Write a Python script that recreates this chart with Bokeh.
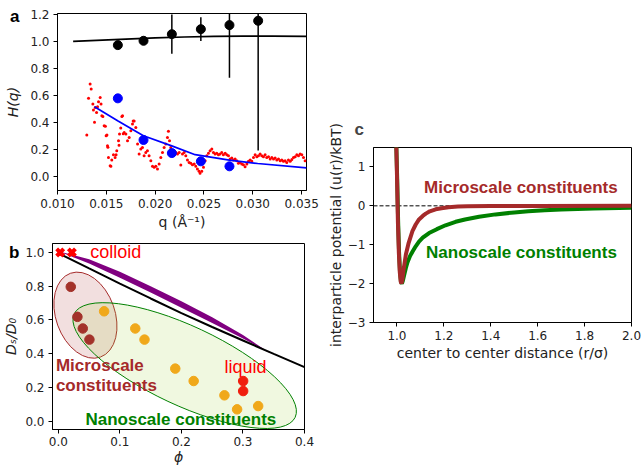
from bokeh.plotting import figure
from bokeh.layouts import row, column
from bokeh.models import (Range1d, FixedTicker, PrintfTickFormatter, Label, Spacer,
                          LinearAxis, CustomJSTickFormatter)
from bokeh.embed import file_html
from bokeh.resources import INLINE

# ---------------- Panel a data ----------------
q_pts = [0.01618, 0.01881, 0.02171, 0.02468, 0.02761, 0.03055]
h_black = [0.971, 1.003, 1.052, 1.089, 1.119, 1.151]
h_black_err = [0.0, 0.03, 0.145, 0.088, 0.39, 0.96]
q_blue = [0.01618, 0.01881, 0.02171, 0.02468, 0.02761]
h_blue = [0.577, 0.269, 0.172, 0.111, 0.074]
q_black_fit = [0.0116, 0.014, 0.017, 0.020, 0.023, 0.026, 0.029, 0.032, 0.0355]
h_black_fit = [0.998, 1.006, 1.015, 1.024, 1.031, 1.036, 1.038, 1.038, 1.036]
q_blue_fit = [0.01379, 0.0162, 0.0188, 0.0217, 0.0241, 0.0276, 0.0305, 0.0355]
h_blue_fit = [0.515, 0.41, 0.30, 0.225, 0.16, 0.12, 0.095, 0.062]
q_red = [0.01300, 0.01318, 0.01334, 0.01345, 0.01362, 0.01368, 0.01379, 0.01386, 0.01400, 0.01410,
         0.01420, 0.01437, 0.01446, 0.01454, 0.01465, 0.01478, 0.01490, 0.01498, 0.01506, 0.01512,
         0.01516, 0.01522, 0.01539, 0.01547, 0.01556, 0.01573, 0.01590, 0.01600, 0.01607, 0.01625,
         0.01630, 0.01635, 0.01648, 0.01659, 0.01666, 0.01673, 0.01683, 0.01700, 0.01717, 0.01734,
         0.01751, 0.01768, 0.01775, 0.01785, 0.01802, 0.01820, 0.01836, 0.01853, 0.01870, 0.01887,
         0.01904, 0.01921, 0.01938, 0.01956, 0.01973, 0.01990, 0.02007, 0.02024, 0.02041, 0.02058,
         0.02075, 0.02092, 0.02109, 0.02126, 0.02136, 0.02147, 0.02160, 0.02177, 0.02195, 0.02212,
         0.02229, 0.02246, 0.02263, 0.02280, 0.02297, 0.02314, 0.02331, 0.02348, 0.02365, 0.02382,
         0.02400, 0.02416, 0.02433, 0.02450, 0.02460, 0.02478, 0.02495, 0.02512, 0.02529, 0.02546,
         0.02563, 0.02580, 0.02597, 0.02614, 0.02631, 0.02648, 0.02665, 0.02682, 0.02699, 0.02717,
         0.02734, 0.02751, 0.02768, 0.02785, 0.02802, 0.02819, 0.02836, 0.02853, 0.02870, 0.02887,
         0.02904, 0.02921, 0.02939, 0.02956, 0.02973, 0.02990, 0.03007, 0.03024, 0.03041, 0.03058,
         0.03075, 0.03092, 0.03109, 0.03126, 0.03143, 0.03161, 0.03178, 0.03195, 0.03212, 0.03229,
         0.03246, 0.03263, 0.03280, 0.03297, 0.03314, 0.03331, 0.03348, 0.03365, 0.03383, 0.03400,
         0.03417, 0.03434, 0.03451, 0.03468, 0.03485, 0.03502, 0.03519, 0.03536]
h_red = [0.306, 0.577, 0.683, 0.646, 0.535, 0.49, 0.40, 0.51, 0.473, 0.515,
         0.552, 0.584, 0.535, 0.449, 0.443, 0.375, 0.37, 0.30, 0.306, 0.227,
         0.215, 0.14, 0.079, 0.074, 0.12, 0.16, 0.14, 0.16, 0.19, 0.264,
         0.23, 0.313, 0.357, 0.443, 0.449, 0.315, 0.325, 0.313, 0.264, 0.288,
         0.338, 0.387, 0.41, 0.41, 0.362, 0.239, 0.165, 0.202, 0.214, 0.153,
         0.177, 0.19, 0.153, 0.116, 0.074, 0.067, 0.074, 0.054, 0.091, 0.14,
         0.177, 0.214, 0.239, 0.288, 0.333, 0.264, 0.214, 0.177, 0.19, 0.177,
         0.165, 0.177, 0.084, 0.165, 0.177, 0.153, 0.12, 0.103, 0.096, 0.086,
         0.091, 0.074, 0.054, 0.037, 0.022, 0.037, 0.067, 0.116, 0.153, 0.17,
         0.19, 0.202, 0.177, 0.165, 0.17, 0.16, 0.165, 0.177, 0.16, 0.17,
         0.16, 0.153, 0.128, 0.136, 0.12, 0.128, 0.116, 0.096, 0.103, 0.091,
         0.086, 0.071, 0.091, 0.111, 0.12, 0.111, 0.14, 0.16, 0.145, 0.153,
         0.165, 0.153, 0.145, 0.16, 0.14, 0.145, 0.128, 0.14, 0.128, 0.136,
         0.12, 0.128, 0.116, 0.12, 0.111, 0.116, 0.103, 0.12, 0.111, 0.125,
         0.14, 0.145, 0.16, 0.153, 0.165, 0.16, 0.14, 0.116]
a_xticks = [0.010, 0.015, 0.020, 0.025, 0.030, 0.035]
a_yticks = [0.0, 0.2, 0.4, 0.6, 0.8, 1.0, 1.2]

# ---------------- Panel b data ----------------
phi_colloid = [0.003, 0.022]
ds_colloid = [1.0, 1.0]
phi_band = [0.008, 0.05, 0.1, 0.15, 0.2, 0.25, 0.3, 0.345]
band_upper = [1.0, 0.96, 0.885, 0.80, 0.71, 0.615, 0.51, 0.40]
band_lower = [0.995, 0.935, 0.85, 0.762, 0.672, 0.582, 0.49, 0.40]
phi_theory = [0.003, 0.05, 0.1, 0.15, 0.2, 0.25, 0.3, 0.35, 0.4]
ds_theory = [0.99, 0.905, 0.815, 0.727, 0.64, 0.558, 0.478, 0.398, 0.32]
phi_micro = [0.0202, 0.031, 0.0397, 0.0505]
ds_micro = [0.796, 0.618, 0.549, 0.483]
phi_nano = [0.0744, 0.125, 0.140, 0.190, 0.2199, 0.2699, 0.2905, 0.3247]
ds_nano = [0.651, 0.549, 0.483, 0.311, 0.2375, 0.1526, 0.0695, 0.089]
phi_liquid = [0.3003, 0.3003]
ds_liquid = [0.2375, 0.178]
micro_ellipse_center = (0.044, 0.628)
nano_ellipse_center = (0.2053, 0.329)
b_xticks = [0.0, 0.1, 0.2, 0.3, 0.4]
b_yticks = [0.0, 0.2, 0.4, 0.6, 0.8, 1.0]

# ---------------- Panel c data ----------------
r_micro = [0.997, 1.000, 1.004, 1.008, 1.012, 1.016, 1.019, 1.023, 1.028, 1.038, 1.05, 1.066,
           1.08, 1.094, 1.11, 1.123, 1.14, 1.165, 1.19, 1.22, 1.26, 1.3, 1.4, 1.6, 2.0]
u_micro = [1.6, 0.8, -0.4, -1.2, -1.7, -1.95, -2.0, -1.9, -1.65, -1.25, -0.95, -0.65,
           -0.48, -0.35, -0.26, -0.2, -0.14, -0.09, -0.06, -0.035, -0.02, -0.012, -0.005, -0.002, 0.0]
r_nano = [0.997, 1.001, 1.005, 1.009, 1.013, 1.017, 1.021, 1.025, 1.03, 1.038, 1.045, 1.055,
          1.066, 1.08, 1.094, 1.11, 1.137, 1.17, 1.207, 1.25, 1.29, 1.35, 1.42, 1.5, 1.56,
          1.63, 1.7, 1.84, 2.0]
u_nano = [1.6, 0.7, -0.4, -1.2, -1.7, -1.95, -2.0, -1.93, -1.8, -1.6, -1.45, -1.3,
          -1.18, -1.04, -0.92, -0.82, -0.7, -0.6, -0.5, -0.41, -0.35, -0.28, -0.22, -0.17, -0.14,
          -0.115, -0.095, -0.068, -0.05]
c_xticks = [1.0, 1.2, 1.4, 1.6, 1.8, 2.0]
c_yticks = [-3, -2, -1, 0, 1]
c_ylabels = {-3: "\u22123", -2: "\u22122", -1: "\u22121", 0: "0", 1: "1"}

FONT = "DejaVu Sans"
BROWN = "#a52a2a"
GREEN = "#008000"


def style(p):
    p.grid.visible = False
    p.outline_line_color = "black"
    p.outline_line_width = 1
    p.outline_line_alpha = 1.0
    p.background_fill_color = "white"
    p.border_fill_color = "white"
    try:
        p.frame_align = False
    except Exception:
        pass
    for ax in p.axis:
        ax.axis_line_color = "black"
        ax.major_tick_out = 4
        ax.major_tick_in = 0
        ax.minor_tick_out = 0
        ax.minor_tick_in = 0
        ax.major_tick_line_color = "black"
        ax.major_label_text_font = FONT
        ax.major_label_text_font_size = "12px"
        ax.major_label_text_color = "#222222"
        ax.major_label_standoff = 4
        ax.axis_label_text_font = FONT
        ax.axis_label_text_font_size = "14px"
        ax.axis_label_text_font_style = "normal"
        ax.axis_label_text_color = "#222222"


def letter_axis(letter, tick, standoff, label, label_standoff):
    """Outer left axis carrying the panel letter and the y-axis title."""
    ax = LinearAxis(ticker=FixedTicker(ticks=[tick]),
                    formatter=CustomJSTickFormatter(code="return '%s'" % letter))
    ax.axis_line_color = None
    ax.major_tick_out = 0
    ax.major_tick_in = 0
    ax.minor_tick_out = 0
    ax.minor_tick_in = 0
    ax.major_label_text_font = "Liberation Sans"
    ax.major_label_text_font_size = "17px"
    ax.major_label_text_font_style = "bold"
    ax.major_label_text_color = "black"
    ax.major_label_standoff = standoff
    ax.axis_label = label
    ax.axis_label_text_font = FONT
    ax.axis_label_text_font_size = "14px"
    ax.axis_label_text_font_style = "italic"
    ax.axis_label_text_color = "#222222"
    ax.axis_label_standoff = label_standoff
    return ax


# ================= Panel a =================
pa = figure(frame_width=249, frame_height=177, min_border_left=57, min_border_right=14,
            min_border_top=13, min_border_bottom=43,
            x_range=Range1d(0.010, 0.0355), y_range=Range1d(-0.105, 1.205),
            output_backend="svg", toolbar_location=None, title=None)
style(pa)
pa.xaxis.ticker = FixedTicker(ticks=a_xticks)
pa.xaxis.formatter = PrintfTickFormatter(format="%.3f")
pa.yaxis.ticker = FixedTicker(ticks=a_yticks)
pa.yaxis.formatter = PrintfTickFormatter(format="%.1f")
pa.xaxis.axis_label = "q (Å\u207b\u00b9)"
pa.xaxis.axis_label_standoff = 3
pa.add_layout(letter_axis("a", 1.18, 8, "H(q)", -14), "left")

pa.scatter(q_red, h_red, size=3, color="red", line_color=None)
pa.line(q_black_fit, h_black_fit, color="black", line_width=1.7)
pa.line(q_blue_fit, h_blue_fit, color="blue", line_width=1.7)
err_lo = [y - e for y, e in zip(h_black, h_black_err)]
err_hi = [y + e for y, e in zip(h_black, h_black_err)]
pa.segment(x0=q_pts, y0=err_lo, x1=q_pts, y1=err_hi, color="black", line_width=1.5)
pa.scatter(q_pts, h_black, size=9, color="black")
pa.scatter(q_blue, h_blue, size=9, color="blue")

# ================= Panel b =================
pb = figure(frame_width=252, frame_height=186, min_border_left=52, min_border_right=16,
            min_border_top=10, min_border_bottom=37,
            x_range=Range1d(-0.0095, 0.4), y_range=Range1d(-0.05, 1.053),
            output_backend="svg", toolbar_location=None, title=None)
style(pb)
pb.xaxis.ticker = FixedTicker(ticks=b_xticks)
pb.xaxis.formatter = PrintfTickFormatter(format="%.1f")
pb.yaxis.ticker = FixedTicker(ticks=b_yticks)
pb.yaxis.formatter = PrintfTickFormatter(format="%.1f")
pb.xaxis.axis_label = "ϕ"
pb.xaxis.axis_label_text_font_style = "italic"
pb.xaxis.axis_label_standoff = 0
pb.xaxis.major_label_standoff = 3
pb.add_layout(letter_axis("b", 1.0, 3, "Dₛ/D₀", -13), "left")

pb.ellipse(x=[micro_ellipse_center[0]], y=[micro_ellipse_center[1]], width=89, height=59,
           angle=1.915, width_units="screen", height_units="screen",
           fill_color=BROWN, fill_alpha=0.15, line_color=BROWN, line_width=1)
pb.ellipse(x=[nano_ellipse_center[0]], y=[nano_ellipse_center[1]], width=244, height=79,
           angle=-0.438, width_units="screen", height_units="screen",
           fill_color="yellowgreen", fill_alpha=0.15, line_color=GREEN, line_width=1)
pb.varea(x=phi_band, y1=band_lower, y2=band_upper, fill_color="purple")
pb.line(phi_theory, ds_theory, color="black", line_width=2)
pb.scatter(phi_colloid, ds_colloid, marker="x", size=10, line_width=4, color="red")
pb.scatter(phi_micro, ds_micro, size=9.5, color="#a3322a")
pb.scatter(phi_nano, ds_nano, size=9.5, color="#f0a81a")
pb.scatter(phi_liquid, ds_liquid, size=9.5, color="#f01e0e")

pb.add_layout(Label(x=0.052, y=1.0, text="colloid", text_font="Liberation Sans",
                    text_font_size="18px", text_color="red", text_baseline="middle"))
pb.add_layout(Label(x=0.270, y=0.32, text="liquid", text_font="Liberation Sans",
                    text_font_size="18px", text_color="red", text_baseline="middle"))
pb.add_layout(Label(x=-0.004, y=0.33, text="Microscale", text_font="Liberation Sans",
                    text_font_size="17px", text_font_style="bold", text_color=BROWN,
                    text_baseline="middle"))
pb.add_layout(Label(x=-0.004, y=0.212, text="constituents", text_font="Liberation Sans",
                    text_font_size="17px", text_font_style="bold", text_color=BROWN,
                    text_baseline="middle"))
pb.add_layout(Label(x=0.044, y=0.01, text="Nanoscale constituents", text_font="Liberation Sans",
                    text_font_size="17px", text_font_style="bold", text_color=GREEN,
                    text_baseline="middle"))

# ================= Panel c =================
pc = figure(frame_width=258, frame_height=175, min_border_left=53, min_border_right=11,
            min_border_top=47, min_border_bottom=42,
            x_range=Range1d(0.9, 2.0), y_range=Range1d(-3.0, 1.5),
            output_backend="svg", toolbar_location=None, title="c")
style(pc)
pc.title.align = "left"
pc.title.offset = -19
pc.title.text_font = "Liberation Sans"
pc.title.text_font_size = "17px"
pc.title.text_font_style = "bold"
pc.title.standoff = 18
pc.xaxis.ticker = FixedTicker(ticks=c_xticks)
pc.xaxis.formatter = PrintfTickFormatter(format="%.1f")
pc.yaxis.ticker = FixedTicker(ticks=c_yticks)
pc.yaxis.major_label_overrides = c_ylabels
pc.xaxis.axis_label = "center to center distance (r/σ)"
pc.xaxis.axis_label_standoff = 2
pc.yaxis.axis_label = "interparticle potential (u(r)/kBT)"
pc.yaxis.axis_label_standoff = 1

pc.line([0.9, 2.0], [0, 0], color="black", line_width=1, line_dash="4 2")
pc.line(r_nano, u_nano, color=GREEN, line_width=4)
pc.line(r_micro, u_micro, color=BROWN, line_width=4)
pc.add_layout(Label(x=1.1155, y=0.48, text="Microscale constituents", text_font="Liberation Sans",
                    text_font_size="17px", text_font_style="bold", text_color=BROWN,
                    text_baseline="middle"))
pc.add_layout(Label(x=1.124, y=-1.19, text="Nanoscale constituents", text_font="Liberation Sans",
                    text_font_size="17px", text_font_style="bold", text_color=GREEN,
                    text_baseline="middle"))

layout = row(column(pa, pb), column(Spacer(width=322, height=100), pc))

with open("out.html", "w") as f:
    f.write(file_html(layout, INLINE))
